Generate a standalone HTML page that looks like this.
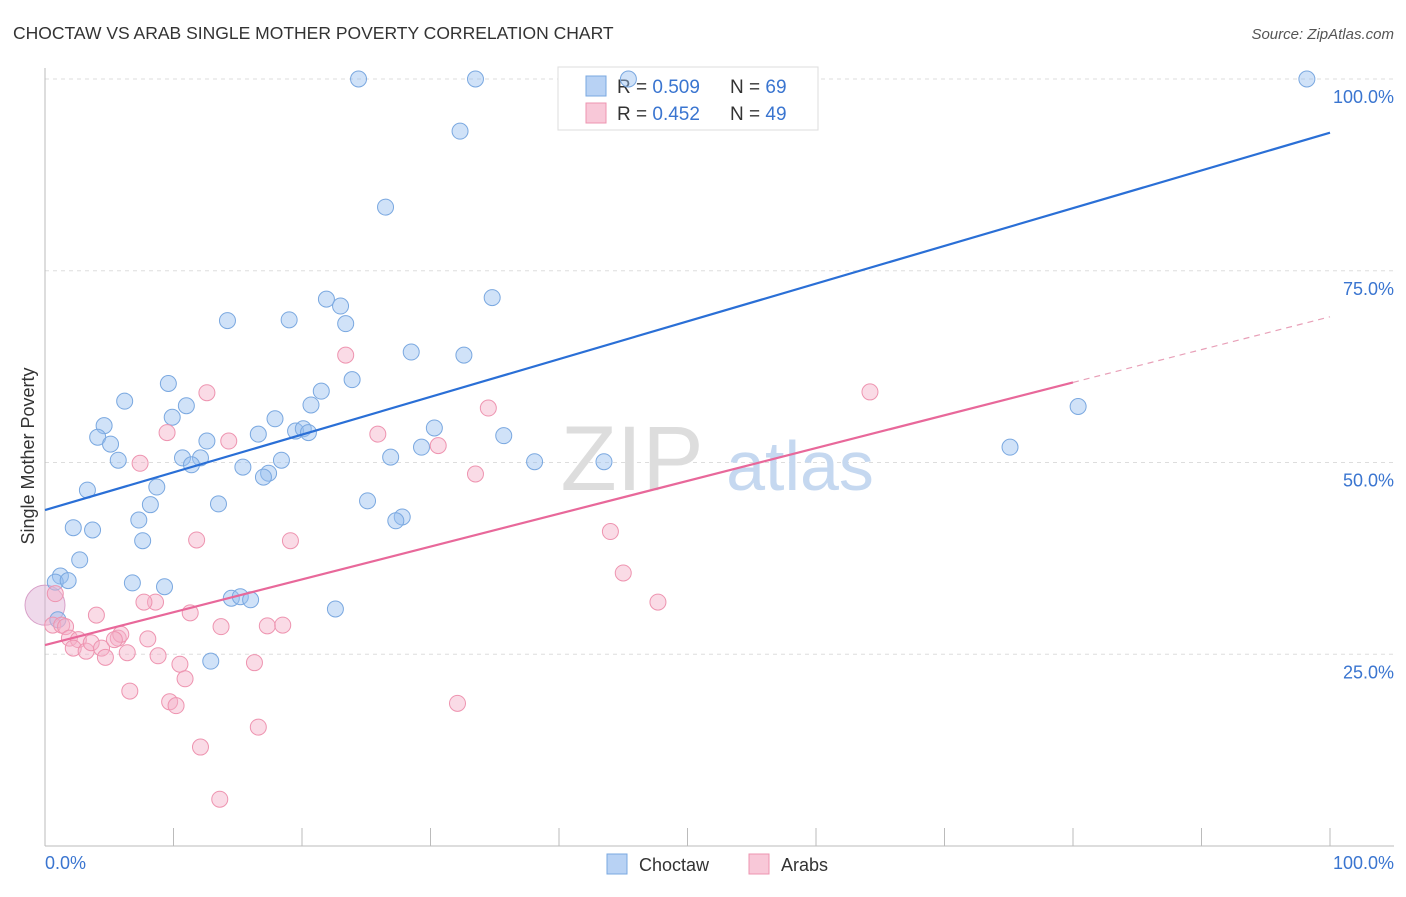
<!DOCTYPE html>
<html><head><meta charset="utf-8"><style>
body{margin:0;background:#fff;font-family:"Liberation Sans",sans-serif;}
svg text{font-family:"Liberation Sans",sans-serif;}
</style></head><body>
<svg id="chart" width="1406" height="892">
<text x="13" y="39" font-size="17.5" fill="#333">CHOCTAW VS ARAB SINGLE MOTHER POVERTY CORRELATION CHART</text>
<text x="1394" y="39" font-size="15" fill="#555" font-style="italic" text-anchor="end">Source: ZipAtlas.com</text>
<g id="grid"></g>
<text x="632" y="490" font-size="92" fill="#ddd" font-family="Liberation Serif" text-anchor="middle">ZIP</text>
<text x="800" y="490" font-size="70" fill="#c5d8f0" text-anchor="middle">atlas</text>
<g>
<rect x="558" y="67" width="260" height="63" fill="#fff" stroke="#ddd"/>
<rect x="586" y="76" width="20" height="20" fill="#b8d2f4" stroke="#7aa8e0"/>
<rect x="586" y="103" width="20" height="20" fill="#f8c8d8" stroke="#ee94b0"/>
<text x="617" y="93" font-size="19" fill="#333">R = <tspan fill="#3a75d0">0.509</tspan></text>
<text x="730" y="93" font-size="19" fill="#333">N = <tspan fill="#3a75d0">69</tspan></text>
<text x="617" y="120" font-size="19" fill="#333">R = <tspan fill="#3a75d0">0.452</tspan></text>
<text x="730" y="120" font-size="19" fill="#333">N = <tspan fill="#3a75d0">49</tspan></text>
</g>
<g id="marks"></g>
<text transform="translate(34,456) rotate(-90)" font-size="18" fill="#333" text-anchor="middle">Single Mother Poverty</text>
<text x="45" y="869" font-size="18" fill="#3a75d0">0.0%</text>
<text x="1394" y="869" font-size="18" fill="#3a75d0" text-anchor="end">100.0%</text>
<g>
<rect x="607" y="854" width="20" height="20" fill="#b8d2f4" stroke="#7aa8e0"/>
<text x="639" y="871" font-size="18" fill="#333">Choctaw</text>
<rect x="749" y="854" width="20" height="20" fill="#f8c8d8" stroke="#ee94b0"/>
<text x="781" y="871" font-size="18" fill="#333">Arabs</text>
</g>
</svg>
<script>
const yTicks=[25,50,75,100];
const yTickLabels=["25.0%","50.0%","75.0%","100.0%"];
const xTicks=[0,10,20,30,40,50,60,70,80,90,100];
const choctawX=[24.4,33.5,45.4,98.2,32.3,26.5,21.9,23.0,34.8,14.2,19.0,23.4,28.5,32.6,23.9,9.6,21.5,6.2,20.7,11.0,9.9,4.6,17.9,30.3,4.1,19.5,20.1,20.5,16.6,5.1,12.6,35.7,29.3,26.9,5.7,10.7,12.1,18.4,11.4,15.4,38.1,43.5,75.1,80.4,17.4,17.0,8.7,3.3,8.2,13.5,25.1,27.8,27.3,7.3,2.2,3.7,7.6,2.7,1.2,0.8,1.8,6.8,9.3,14.5,15.2,16.0,22.6,1.0,12.9];
const choctawY=[100,100,100,100,93.2,83.3,71.3,70.4,71.5,68.5,68.6,68.1,64.4,64.0,60.8,60.3,59.3,58.0,57.5,57.4,55.9,54.8,55.7,54.5,53.3,54.1,54.4,53.9,53.7,52.4,52.8,53.5,52.0,50.7,50.3,50.6,50.6,50.3,49.7,49.4,50.1,50.1,52.0,57.3,48.6,48.1,46.8,46.4,44.5,44.6,45.0,42.9,42.4,42.5,41.5,41.2,39.8,37.3,35.2,34.4,34.6,34.3,33.8,32.3,32.5,32.1,30.9,29.5,24.1];
const arabsX=[23.4,12.6,9.5,25.9,14.3,30.6,7.4,34.5,33.5,64.2,44.0,11.8,19.1,45.0,47.7,8.6,7.7,4.0,11.3,0.8,0.6,1.3,1.6,1.9,2.6,2.2,3.2,3.6,4.4,4.7,5.7,5.9,5.4,6.4,8.0,8.8,10.5,10.9,13.7,17.3,18.5,16.3,6.6,9.7,10.2,32.1,12.1,16.6,13.6];
const arabsY=[64.0,59.1,53.9,53.7,52.8,52.2,49.9,57.1,48.5,59.2,41.0,39.9,39.8,35.6,31.8,31.8,31.8,30.1,30.4,32.9,28.8,28.8,28.6,27.1,26.9,25.8,25.4,26.5,25.8,24.6,27.1,27.6,26.9,25.2,27.0,24.8,23.7,21.8,28.6,28.7,28.8,23.9,20.2,18.8,18.3,18.6,12.9,15.5,6.1];
const choctawTrend=[43.8,93.0];
const arabsTrend=[26.2,69.0];
const arabsSolidEnd=80;
const NS="http://www.w3.org/2000/svg";
const X0=45,X1=1330,Y0=846,Y100=79;
const sx=v=>X0+(X1-X0)*v/100, sy=v=>Y0-(Y0-Y100)*v/100;
function mk(tag,attrs,parent){const e=document.createElementNS(NS,tag);for(const k in attrs)e.setAttribute(k,attrs[k]);parent.appendChild(e);return e;}
const grid=document.getElementById('grid'),marks=document.getElementById('marks');
yTicks.forEach((t,i)=>{
 const l=mk('line',{x1:X0,x2:1394,y1:sy(t),y2:sy(t),stroke:'#ddd','stroke-dasharray':'4,4'},grid);
 
 
 const tx=mk('text',{x:1394,y:sy(t)+24,'font-size':18,fill:'#3a75d0','text-anchor':'end'},grid);
 tx.textContent=yTickLabels[i];
 
 
});
const ax=mk('line',{x1:X0,x2:1394,y1:Y0,y2:Y0,stroke:'#bbb'},grid);


const ay=mk('line',{x1:X0,x2:X0,y1:68,y2:Y0,stroke:'#bbb'},grid);


xTicks.forEach(t=>{
 const l=mk('line',{x1:sx(t),x2:sx(t),y1:Y0,y2:Y0-18,stroke:'#bbb'},grid);
 
 
});
const big=mk('circle',{cx:sx(0),cy:sy(31.4),r:20,fill:'rgba(220,170,210,0.45)',stroke:'#d8a0c8'},marks);


choctawX.forEach((x,i)=>{
 const c=mk('circle',{cx:sx(x),cy:sy(choctawY[i]),r:8,fill:'rgba(150,190,240,0.45)',stroke:'#7aa8e0','stroke-width':1},marks);
 
 
});
arabsX.forEach((x,i)=>{
 const c=mk('circle',{cx:sx(x),cy:sy(arabsY[i]),r:8,fill:'rgba(245,175,200,0.45)',stroke:'#ee94b0','stroke-width':1},marks);
 
 
});
const bl=mk('line',{x1:sx(0),y1:sy(choctawTrend[0]),x2:sx(100),y2:sy(choctawTrend[1]),stroke:'#2a6fd6','stroke-width':2.2},marks);


const ya=v=>arabsTrend[0]+(arabsTrend[1]-arabsTrend[0])*v/100;
const pl=mk('line',{x1:sx(0),y1:sy(ya(0)),x2:sx(arabsSolidEnd),y2:sy(ya(arabsSolidEnd)),stroke:'#e8689a','stroke-width':2.2},marks);


const pd=mk('line',{x1:sx(arabsSolidEnd),y1:sy(ya(arabsSolidEnd)),x2:sx(100),y2:sy(ya(100)),stroke:'#e8a0b8','stroke-width':1.2,'stroke-dasharray':'6,5'},marks);


</script>
</body></html>
